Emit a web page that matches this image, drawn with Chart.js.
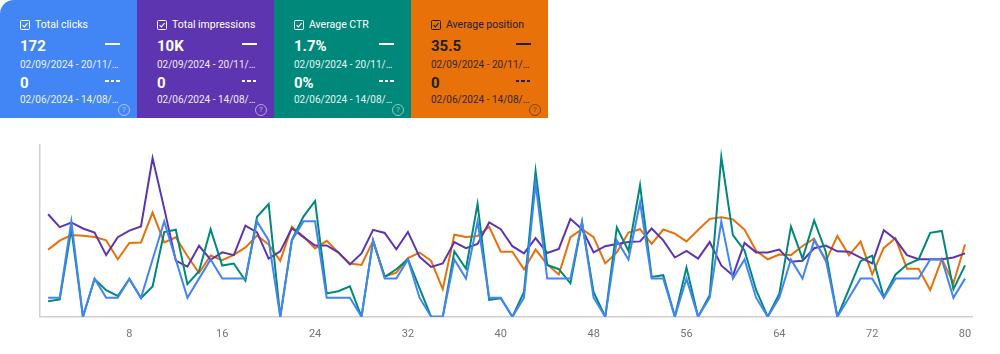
<!DOCTYPE html>
<html>
<head>
<meta charset="utf-8">
<script src="https://cdn.jsdelivr.net/npm/chart.js@4.4.1/dist/chart.umd.min.js"></script>
<style>
  html, body { margin: 0; padding: 0; background: #fff; }
  body { width: 1000px; height: 354px; overflow: hidden; position: relative; font-family: Roboto, "Noto Sans", sans-serif; }
  .cards { position: absolute; left: 0; top: 0; display: flex; }
  .card { position: relative; width: 137px; height: 118px; color: #fff; }
  .card.first { border-top-left-radius: 14px; }
  .card .chk { position: absolute; left: 20px; top: 20px; width: 8px; height: 8px; border: 1.3px solid currentColor; border-radius: 1.5px; }
  .card .chk svg { position: absolute; left: 0; top: 0; width: 8px; height: 8px; }
  .card .lbl { position: absolute; left: 35px; top: 18px; font-size: 10.5px; line-height: 14px; white-space: nowrap; }
  .card .val { position: absolute; left: 20px; font-size: 15px; font-weight: 700; line-height: 18px; }
  .card .v1 { top: 37px; }
  .card .v2 { top: 74px; }
  .card .dash { position: absolute; left: 105px; width: 15px; height: 2px; }
  .card .d1 { top: 43px; background: currentColor; }
  .card .d2 { top: 80px; background: repeating-linear-gradient(to right, currentColor 0 3.5px, transparent 3.5px 5.5px); }
  .card .date { position: absolute; left: 20px; font-size: 10px; line-height: 13px; opacity: 0.9; white-space: nowrap; }
  .card .t1 { top: 58px; }
  .card .t2 { top: 93px; }
  .card .help { position: absolute; left: 118px; top: 104px; width: 10px; height: 10px; border: 1px solid currentColor; border-radius: 50%; font-size: 8px; line-height: 10px; text-align: center; opacity: 0.55; }
  #chartBox { position: absolute; left: 0; top: 130px; width: 1000px; height: 224px; }
</style>
</head>
<body>
<div class="cards" id="cards"></div>
<div id="chartBox"><canvas id="perfChart"></canvas></div>
<script>
// day index along the x axis
const days = [];
for (let d = 1; d <= 80; d++) days.push(d);
const tickLabels = [8, 16, 24, 32, 40, 48, 56, 64, 72, 80];

// daily clicks (sum = 172)
const clicks = [1, 1, 5, 0, 2, 1, 1, 2, 1, 3, 5, 3, 1, 2, 3, 2, 2, 2, 5, 4,
  0, 4, 5, 5, 1, 1, 1, 0, 4, 2, 2, 3, 1, 0, 0, 3, 2, 5, 1, 1,
  0, 1, 7, 2, 2, 2, 5, 1, 0, 4, 3, 6, 2, 2, 0, 2, 0, 1, 5, 2,
  3, 1, 0, 1, 3, 2, 4, 3, 0, 1, 2, 2, 1, 2, 2, 2, 3, 3, 1, 2];

// impressions, CTR and position, relative to their own axis (0-100)
const impressions = [59.7, 52.2, 54.9, 51.4, 49.0, 35.9, 46.3, 50.2, 52.6, 92.4,
  63.1, 32.7, 29.2, 41.3, 33.2, 37.5, 35.9, 53.0, 49.1, 33.9,
  38.1, 51.5, 46.4, 41.5, 41.5, 37.5, 30.5, 36.9, 50.6, 48.8,
  39.3, 49.4, 34.9, 29.0, 31.1, 43.5, 39.9, 42.4, 54.9, 51.0,
  41.1, 36.9, 45.8, 37.1, 39.5, 57.0, 51.0, 37.5, 41.1, 42.4,
  43.5, 43.9, 51.4, 44.5, 34.5, 38.3, 33.9, 43.5, 29.9, 24.0,
  43.0, 37.5, 37.5, 39.1, 32.0, 32.6, 39.9, 41.5, 38.1, 37.9,
  34.5, 31.1, 50.4, 45.1, 35.9, 33.5, 33.5, 33.5, 34.5, 36.9];

const ctr = [9.1, 10.1, 51.2, 0, 22.0, 15.5, 12.1, 22.0, 10.9, 17.6,
  49.3, 50.7, 19.0, 26.5, 50.9, 29.8, 31.0, 21.0, 58.2, 65.6,
  0, 44.8, 58.3, 67.4, 13.6, 14.9, 17.7, 0, 44.2, 23.2,
  27.7, 33.5, 16.7, 0, 0, 38.1, 28.0, 65.7, 9.9, 10.8,
  0, 14.5, 84.8, 30.2, 27.7, 19.5, 54.8, 14.3, 0, 52.0,
  38.4, 76.6, 23.2, 24.2, 0, 28.7, 0, 12.6, 93.0, 47.6,
  38.6, 15.6, 0, 13.4, 52.5, 33.9, 56.1, 37.9, 0, 16.1,
  32.4, 35.6, 11.4, 24.5, 30.4, 33.4, 48.9, 50.0, 16.1, 29.9];

const position = [39.1, 44.3, 47.6, 47.2, 46.4, 44.5, 33.5, 43.0, 43.3, 60.7,
  43.3, 46.3, 35.4, 25.5, 35.7, 32.9, 36.1, 40.4, 47.3, 42.1,
  32.6, 52.5, 46.7, 39.8, 44.2, 37.4, 31.0, 30.2, 44.2, 23.5,
  25.7, 34.2, 37.4, 32.6, 16.1, 47.8, 46.4, 47.0, 52.4, 37.9,
  37.9, 27.6, 39.1, 30.5, 24.6, 46.4, 51.0, 46.4, 31.1, 37.5,
  49.0, 51.0, 42.4, 50.8, 48.4, 43.9, 50.5, 57.0, 57.9, 56.7,
  50.8, 38.4, 33.5, 36.2, 35.9, 41.2, 45.5, 32.4, 47.1, 35.8,
  43.8, 24.7, 40.1, 45.8, 28.0, 28.0, 15.6, 33.6, 19.5, 42.1];

const cards = [
  { name: 'Total clicks', value: '172', prev: '0', bg: '#4285f4', fg: '#fff' },
  { name: 'Total impressions', value: '10K', prev: '0', bg: '#5e35b1', fg: '#fff' },
  { name: 'Average CTR', value: '1.7%', prev: '0%', bg: '#00897b', fg: '#fff' },
  { name: 'Average position', value: '35.5', prev: '0', bg: '#e8710a', fg: '#202124' }
];

const cardsEl = document.getElementById('cards');
cards.forEach(function (c, i) {
  const el = document.createElement('div');
  el.className = 'card' + (i === 0 ? ' first' : '');
  el.style.background = c.bg;
  el.style.color = c.fg;
  el.innerHTML = `
    <div class="chk"><svg viewBox="0 0 10 10"><path d="M2 5.2 L4.2 7.3 L8.2 2.8" fill="none" stroke="currentColor" stroke-width="1.4"/></svg></div>
    <div class="lbl">${c.name}</div>
    <div class="val v1">${c.value}</div>
    <div class="dash d1"></div>
    <div class="date t1">02/09/2024 - 20/11/…</div>
    <div class="val v2">${c.prev}</div>
    <div class="dash d2"></div>
    <div class="date t2">02/06/2024 - 14/08/…</div>
    <div class="help">?</div>`;
  cardsEl.appendChild(el);
});

const line = (data, color, axis, order) => ({
  data: data,
  borderColor: color,
  borderWidth: 2,
  pointRadius: 0,
  tension: 0,
  yAxisID: axis,
  order: order
});

new Chart(document.getElementById('perfChart'), {
  type: 'line',
  data: {
    labels: days,
    datasets: [
      line(clicks, '#4285f4', 'yClicks', 0),
      line(ctr, '#00897b', 'y', 1),
      line(impressions, '#5e35b1', 'y', 2),
      line(position, '#e8710a', 'y', 3)
    ]
  },
  options: {
    responsive: true,
    maintainAspectRatio: false,
    animation: false,
    events: [],
    layout: { padding: { left: 40, right: 28, top: 15, bottom: 10 } },
    plugins: { legend: { display: false }, tooltip: { enabled: false } },
    scales: {
      x: {
        type: 'linear',
        min: 0.3,
        max: 80.6,
        afterBuildTicks: function (scale) {
          scale.ticks = tickLabels.map(v => ({ value: v }));
        },
        grid: { display: false },
        border: { display: true, color: '#cfcfcf', width: 1.5 },
        ticks: { color: '#757575', font: { family: 'Roboto', size: 11 }, padding: 3, autoSkip: false, maxRotation: 0 }
      },
      y: {
        min: 0,
        max: 100,
        grid: { display: false, drawTicks: false },
        border: { display: true, color: '#cfcfcf', width: 1.5 },
        ticks: { display: false }
      },
      yClicks: {
        display: false,
        min: 0,
        max: 9
      }
    }
  }
});
</script>
</body>
</html>
